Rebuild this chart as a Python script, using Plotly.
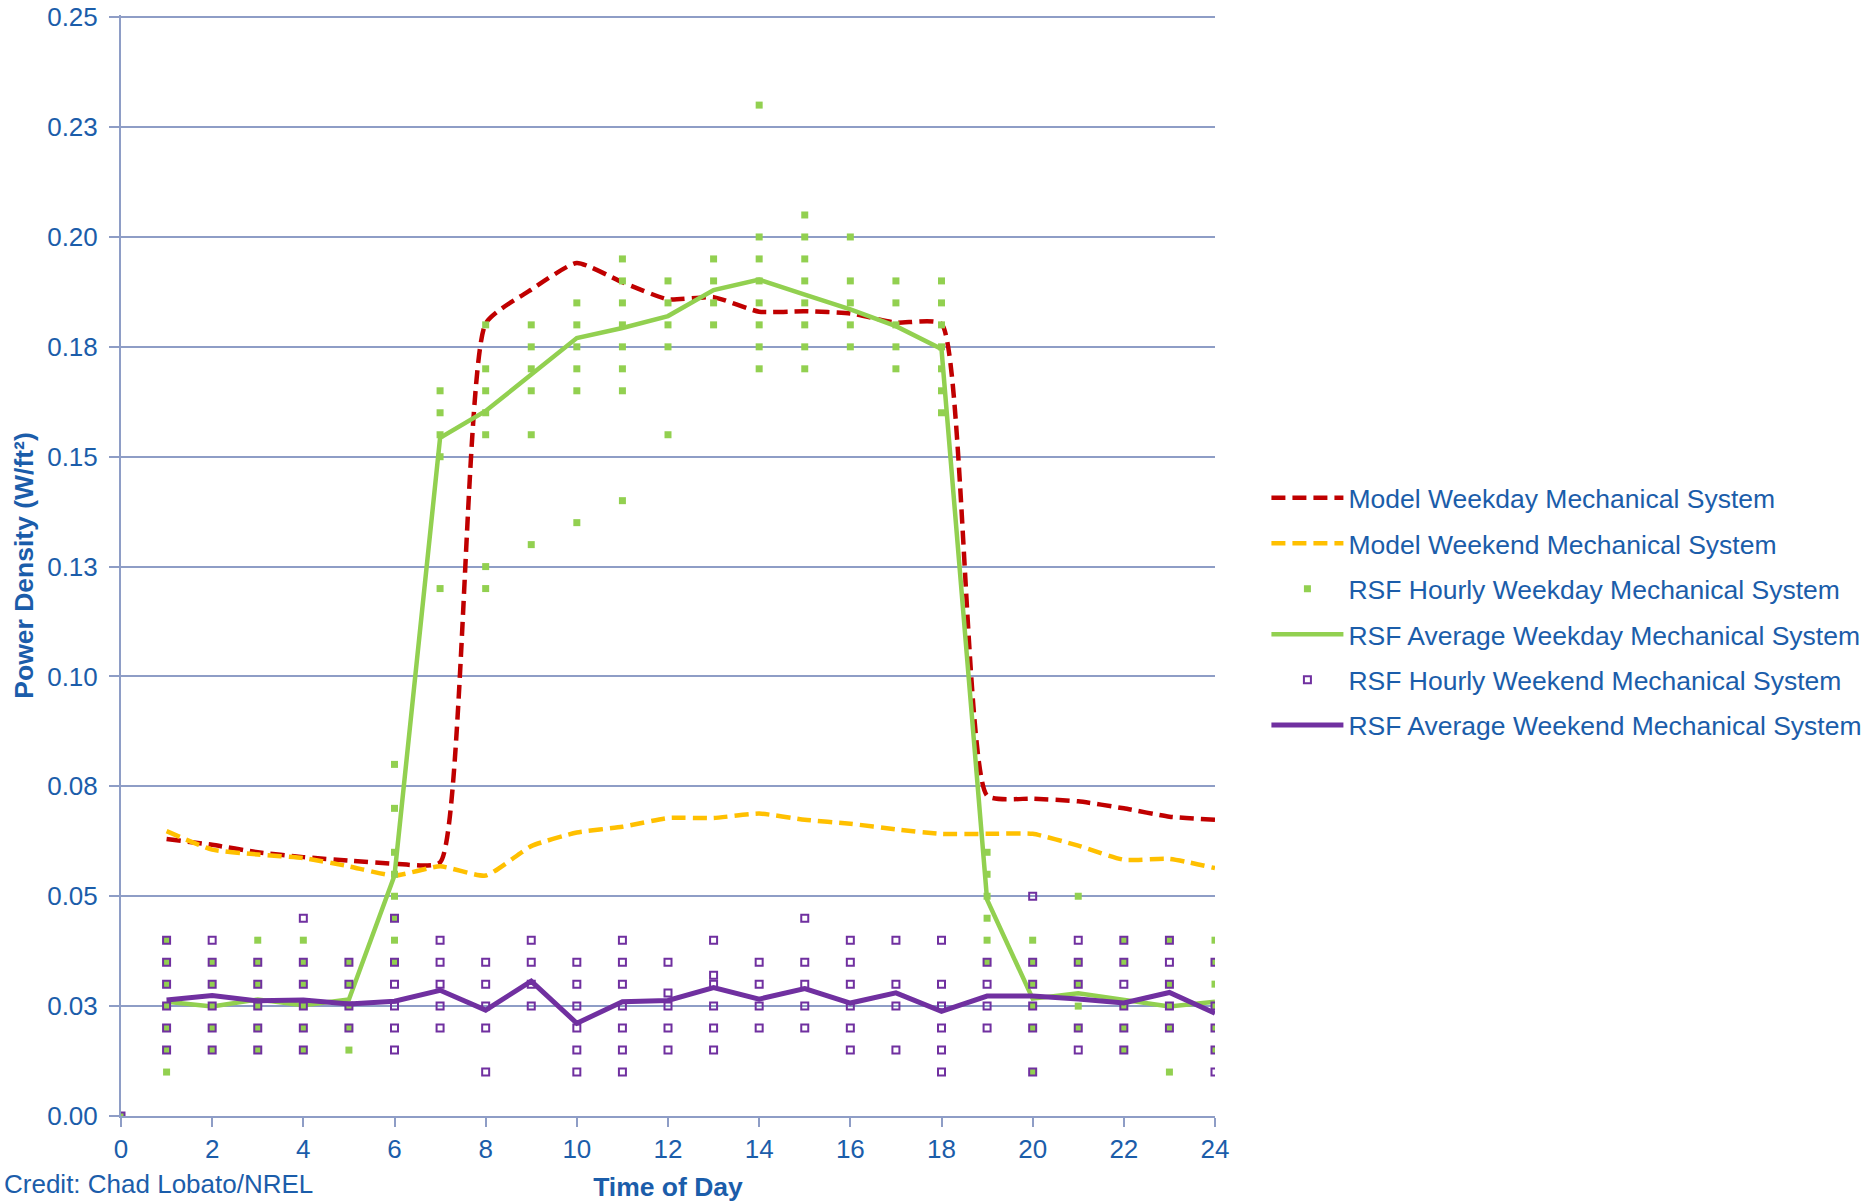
import plotly.graph_objects as go

# ---------------- data ----------------
hours = list(range(1, 25))

model_weekday = [0.0630, 0.0617, 0.0600, 0.0589, 0.0581, 0.0574, 0.0577, 0.1803,
                 0.1880, 0.1941, 0.1897, 0.1858, 0.1863, 0.1830, 0.1831, 0.1826,
                 0.1805, 0.1802, 0.0729, 0.0722, 0.0716, 0.0700, 0.0681, 0.0674]

model_weekend = [0.0648, 0.0606, 0.0595, 0.0587, 0.0568, 0.0547, 0.0568, 0.0547,
                 0.0614, 0.0645, 0.0658, 0.0678, 0.0678, 0.0688, 0.0674, 0.0665,
                 0.0652, 0.0642, 0.0642, 0.0642, 0.0615, 0.0583, 0.0585, 0.0564]

rsf_avg_weekday = [0.0260, 0.0249, 0.0265, 0.0252, 0.0265, 0.0547, 0.1543, 0.1604,
                   0.1687, 0.1770, 0.1793, 0.1820, 0.1879, 0.1903, 0.1869, 0.1835,
                   0.1797, 0.1745, 0.0492, 0.0267, 0.0279, 0.0264, 0.0249, 0.0260]

rsf_avg_weekend = [0.0264, 0.0274, 0.0262, 0.0264, 0.0255, 0.0261, 0.0286, 0.0241,
                   0.0307, 0.0211, 0.0260, 0.0263, 0.0292, 0.0266, 0.0290, 0.0257,
                   0.0280, 0.0238, 0.0273, 0.0273, 0.0266, 0.0257, 0.0281, 0.0234]

# hourly observations, one list per hour (hour 0 .. 24)
rsf_hourly_weekday = [
    [0.000],
    [0.040, 0.035, 0.030, 0.025, 0.020, 0.015, 0.010],
    [0.035, 0.030, 0.025, 0.020, 0.015],
    [0.040, 0.035, 0.030, 0.025, 0.020, 0.015],
    [0.040, 0.035, 0.030, 0.025, 0.020, 0.015],
    [0.035, 0.030, 0.025, 0.020, 0.015],
    [0.080, 0.070, 0.060, 0.055, 0.050, 0.045, 0.040, 0.035],
    [0.165, 0.160, 0.155, 0.150, 0.120],
    [0.180, 0.170, 0.165, 0.160, 0.155, 0.125, 0.120],
    [0.180, 0.175, 0.170, 0.165, 0.155, 0.130],
    [0.185, 0.180, 0.175, 0.170, 0.165, 0.135],
    [0.195, 0.190, 0.185, 0.180, 0.175, 0.170, 0.165, 0.140],
    [0.190, 0.185, 0.180, 0.175, 0.155],
    [0.195, 0.190, 0.185, 0.180],
    [0.230, 0.200, 0.195, 0.190, 0.185, 0.180, 0.175, 0.170],
    [0.205, 0.200, 0.195, 0.190, 0.185, 0.180, 0.175, 0.170],
    [0.200, 0.190, 0.185, 0.180, 0.175],
    [0.190, 0.185, 0.180, 0.175, 0.170],
    [0.190, 0.185, 0.180, 0.175, 0.170, 0.165, 0.160],
    [0.060, 0.055, 0.050, 0.045, 0.040, 0.035],
    [0.040, 0.035, 0.030, 0.025, 0.020, 0.010],
    [0.050, 0.035, 0.030, 0.025, 0.020],
    [0.040, 0.035, 0.025, 0.020, 0.015],
    [0.040, 0.030, 0.025, 0.020, 0.010],
    [0.040, 0.035, 0.030, 0.025, 0.020, 0.015],
]

rsf_hourly_weekend = [
    [0.000],
    [0.040, 0.035, 0.030, 0.025, 0.020, 0.015],
    [0.040, 0.035, 0.030, 0.025, 0.020, 0.015],
    [0.035, 0.030, 0.025, 0.020, 0.015],
    [0.045, 0.035, 0.030, 0.025, 0.020, 0.015],
    [0.035, 0.030, 0.025, 0.020],
    [0.045, 0.035, 0.030, 0.025, 0.020, 0.015],
    [0.040, 0.035, 0.030, 0.025, 0.020],
    [0.035, 0.030, 0.025, 0.020, 0.010],
    [0.040, 0.035, 0.030, 0.025],
    [0.035, 0.030, 0.025, 0.020, 0.015, 0.010],
    [0.040, 0.035, 0.030, 0.025, 0.020, 0.015, 0.010],
    [0.035, 0.028, 0.025, 0.020, 0.015],
    [0.040, 0.032, 0.030, 0.025, 0.020, 0.015],
    [0.035, 0.030, 0.025, 0.020],
    [0.045, 0.035, 0.030, 0.025, 0.020],
    [0.040, 0.035, 0.030, 0.025, 0.020, 0.015],
    [0.040, 0.030, 0.025, 0.015],
    [0.040, 0.030, 0.025, 0.020, 0.015, 0.010],
    [0.035, 0.030, 0.025, 0.020],
    [0.050, 0.035, 0.030, 0.025, 0.020, 0.010],
    [0.040, 0.035, 0.030, 0.020, 0.015],
    [0.040, 0.035, 0.030, 0.025, 0.020, 0.015],
    [0.040, 0.035, 0.030, 0.025, 0.020],
    [0.035, 0.025, 0.020, 0.015, 0.010],
]

x_tickvals = list(range(0, 25, 2))
y_tickvals = [0.0, 0.025, 0.05, 0.075, 0.10, 0.125, 0.15, 0.175, 0.20, 0.225, 0.25]
y_ticktext = ["0.00", "0.03", "0.05", "0.08", "0.10", "0.13", "0.15", "0.18", "0.20", "0.23", "0.25"]

series_names = ["Model Weekday Mechanical System",
                "Model Weekend Mechanical System",
                "RSF Hourly Weekday Mechanical System",
                "RSF Average Weekday Mechanical System",
                "RSF Hourly Weekend Mechanical System",
                "RSF Average Weekend Mechanical System"]


def flatten(per_hour):
    xs, ys = [], []
    for h, vals in enumerate(per_hour):
        for v in vals:
            xs.append(h)
            ys.append(v)
    return xs, ys


# ---------------- style ----------------
TXT = "#1B5DAA"
GRID = "#8E9DC6"
RED = "#C00000"
YEL = "#FFC000"
GRN = "#92D050"
PUR = "#7030A0"
FONT = "Arial, Liberation Sans, sans-serif"

fig = go.Figure()

fig.add_trace(go.Scatter(x=hours, y=model_weekday, mode="lines", name=series_names[0],
                         legendgroup="g0",
                         line=dict(color=RED, width=4.5, dash="14px,7px",
                                   shape="spline", smoothing=0.5)))
fig.add_trace(go.Scatter(x=hours, y=model_weekend, mode="lines", name=series_names[1],
                         legendgroup="g1",
                         line=dict(color=YEL, width=4.5, dash="14px,7px",
                                   shape="spline", smoothing=0.5)))
wx, wy = flatten(rsf_hourly_weekday)
fig.add_trace(go.Scatter(x=wx, y=wy, mode="markers", name=series_names[2],
                         legendgroup="g2",
                         marker=dict(symbol="square", size=7, color=GRN,
                                     line=dict(width=0))))
fig.add_trace(go.Scatter(x=hours, y=rsf_avg_weekday, mode="lines", name=series_names[3],
                         legendgroup="g3",
                         line=dict(color=GRN, width=4.5)))
ex, ey = flatten(rsf_hourly_weekend)
fig.add_trace(go.Scatter(x=ex, y=ey, mode="markers", name=series_names[4],
                         legendgroup="g4",
                         marker=dict(symbol="square-open", size=7, color=PUR,
                                     line=dict(width=2, color=PUR))))
fig.add_trace(go.Scatter(x=hours, y=rsf_avg_weekend, mode="lines", name=series_names[5],
                         legendgroup="g5",
                         line=dict(color=PUR, width=5)))

fig.update_layout(
    width=1871, height=1202,
    margin=dict(l=120.5, r=656, t=15.3, b=86, autoexpand=False),
    paper_bgcolor="white", plot_bgcolor="white",
    font=dict(family=FONT, color=TXT, size=26),
    showlegend=True,
    legend=dict(x=1.047, y=0.583, xanchor="left", yanchor="top",
                font=dict(family=FONT, size=26.5, color=TXT),
                itemwidth=72, tracegroupgap=8, traceorder="grouped",
                bgcolor="rgba(0,0,0,0)", borderwidth=0),
    annotations=[dict(text="Credit: Chad Lobato/NREL", xref="paper", yref="paper",
                      x=-0.1088, y=-0.062, xanchor="left", yanchor="middle",
                      showarrow=False, font=dict(family=FONT, size=26, color=TXT))],
)

fig.update_xaxes(range=[0, 24], tickvals=x_tickvals, ticks="outside", ticklen=9,
                 tickwidth=2, tickcolor=GRID, showline=True, linecolor=GRID, linewidth=2,
                 showgrid=False, zeroline=False, tickfont=dict(size=26, color=TXT),
                 title=dict(text="<b>Time of Day</b>", font=dict(size=26.5, color=TXT),
                            standoff=15))
fig.update_yaxes(range=[0, 0.2505], tickvals=y_tickvals, ticktext=y_ticktext,
                 ticks="outside", ticklen=10, tickwidth=2, tickcolor=GRID,
                 ticklabelstandoff=6, ticklabeloverflow="allow",
                 showline=True, linecolor=GRID, linewidth=2,
                 showgrid=True, gridcolor=GRID, gridwidth=2, zeroline=False,
                 tickfont=dict(size=26, color=TXT),
                 title=dict(text="<b>Power Density (W/ft²)</b>", font=dict(size=26.5, color=TXT),
                            standoff=6))

fig.write_html("out.html", config={"displayModeBar": False},
               post_script="document.body.style.margin='0';document.body.style.overflow='hidden';")
